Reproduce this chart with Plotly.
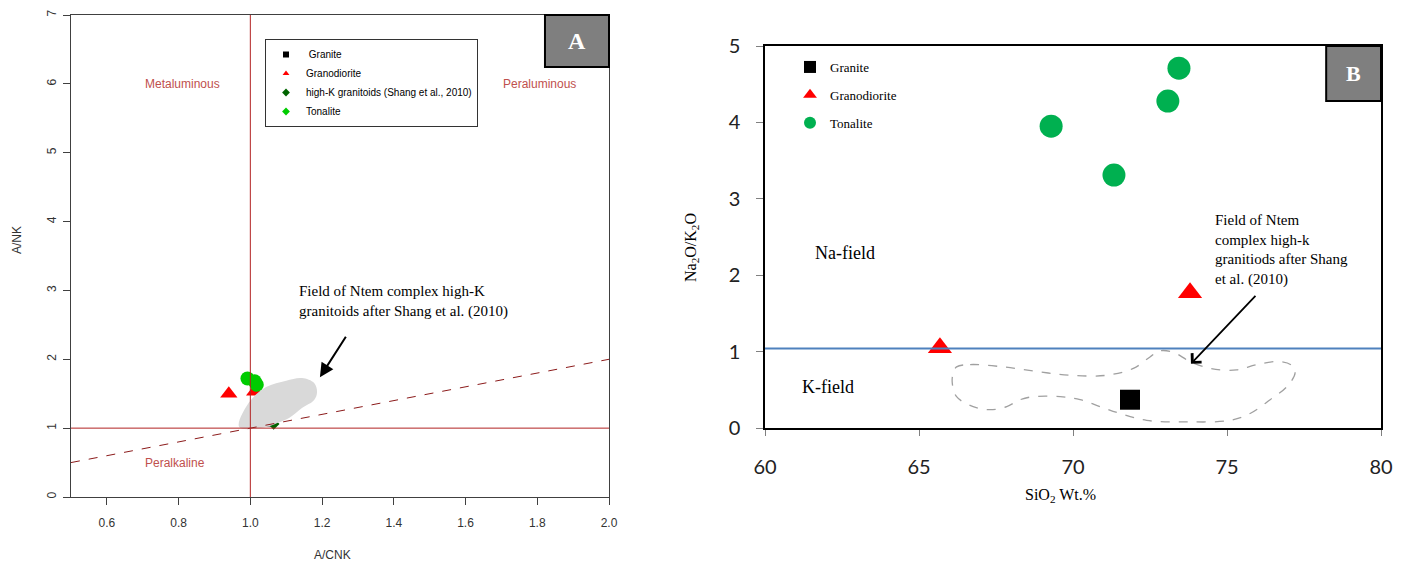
import plotly.graph_objects as go

# ---------------- Panel A data (A/CNK vs A/NK) ----------------
a_granodiorite_acnk = [0.94, 1.012]
a_granodiorite_ank = [1.50, 1.53]
a_tonalite_acnk = [0.992, 1.012, 1.018]
a_tonalite_ank = [1.72, 1.68, 1.63]
a_highk_acnk = [1.065]
a_highk_ank = [1.06]
a_granite_acnk = [1.055]
a_granite_ank = [1.09]
a_field_acnk = [0.969, 0.997, 1.044, 1.100, 1.144, 1.178, 1.186, 1.178, 1.144, 1.108, 1.075, 1.044, 0.969]
a_field_ank = [1.016, 1.379, 1.597, 1.690, 1.727, 1.655, 1.524, 1.408, 1.292, 1.147, 1.074, 1.016, 1.016]
a_ref_x = 1.0          # A/CNK = 1
a_ref_y = 1.0          # A/NK = 1
a_diag = [0.5, 2.0]    # A/NK = A/CNK line
a_arrow_head = (1.194, 1.74)
a_arrow_tail = (1.269, 2.35)

# ---------------- Panel B data (SiO2 vs Na2O/K2O) ----------------
b_granite_sio2 = [71.85]
b_granite_ratio = [0.37]
b_granodiorite_sio2 = [65.68, 73.80]
b_granodiorite_ratio = [1.05, 1.77]
b_tonalite_sio2 = [73.44, 73.08, 69.29, 71.33]
b_tonalite_ratio = [4.71, 4.28, 3.95, 3.31]
b_boundary = 1.04
b_field_sio2 = [66.22, 66.66, 67.74, 68.82, 69.90, 71.09, 71.96, 72.50, 72.82, 73.26, 73.80,
                74.45, 75.31, 75.96, 76.72, 77.10, 77.21, 76.94, 76.40, 75.75, 75.10, 73.69,
                72.39, 71.53, 70.88, 70.23, 69.58, 68.71, 68.28, 67.85, 67.31, 66.76, 66.22,
                66.08, 66.11, 66.22]
b_field_ratio = [0.80, 0.83, 0.80, 0.74, 0.69, 0.69, 0.78, 0.93, 1.01, 0.99, 0.87,
                 0.78, 0.76, 0.83, 0.87, 0.82, 0.72, 0.54, 0.37, 0.19, 0.10, 0.08,
                 0.10, 0.19, 0.28, 0.37, 0.41, 0.41, 0.37, 0.28, 0.24, 0.28, 0.41,
                 0.59, 0.72, 0.80]
b_arrow_head = (73.83, 0.84)
b_arrow_tail = (75.97, 1.75)

RED_LINE = "#b22222"
RED_TEXT = "#c0504d"
SERIF = "Liberation Serif, Times New Roman, serif"
SANS = "Liberation Sans, Arial, sans-serif"

W, H = 1408, 562
BODY = 8  # page body margin offset in the browser


def px(x):
    return (x - BODY) / W


def py(y):
    return 1 - (y - BODY) / H


fig = go.Figure()

# ---- Panel A traces ----
fig.add_trace(go.Scatter(x=a_granite_acnk, y=a_granite_ank, mode="markers", xaxis="x", yaxis="y",
                         marker=dict(symbol="square", color="black", size=9), showlegend=False))
fig.add_trace(go.Scatter(x=a_highk_acnk, y=a_highk_ank, mode="markers", xaxis="x", yaxis="y",
                         marker=dict(symbol="diamond", color="#006400", size=9), showlegend=False))
fig.add_trace(go.Scatter(x=a_granodiorite_acnk, y=a_granodiorite_ank, mode="markers", xaxis="x", yaxis="y",
                         marker=dict(symbol="triangle-up", color="#ff0000", size=15), showlegend=False))
fig.add_trace(go.Scatter(x=a_tonalite_acnk, y=a_tonalite_ank, mode="markers", xaxis="x", yaxis="y",
                         marker=dict(symbol="circle", color="#00cc00", size=14), showlegend=False))
fig.add_trace(go.Scatter(x=a_field_acnk, y=a_field_ank, mode="lines", xaxis="x", yaxis="y",
                         line=dict(color="#d9d9d9", width=0, shape="spline"), fill="toself",
                         fillcolor="#d9d9d9", showlegend=False, hoverinfo="skip"))
fig.add_trace(go.Scatter(x=a_diag, y=a_diag, mode="lines", xaxis="x", yaxis="y",
                         line=dict(color="#8b1a1a", width=1, dash="dash"), showlegend=False))

# Legend proxies for panel A
for name, sym, col in [("&nbsp;Granite", "square", "black"),
                       ("Granodiorite", "triangle-up", "#ff0000"),
                       ("high-K granitoids (Shang et al., 2010)", "diamond", "#006400"),
                       ("Tonalite", "diamond", "#00cc00")]:
    fig.add_trace(go.Scatter(x=[None], y=[None], mode="markers", xaxis="x", yaxis="y", name=name,
                             marker=dict(symbol=sym, color=col, size=6), legend="legend"))

# ---- Panel B traces ----
fig.add_trace(go.Scatter(x=b_field_sio2, y=b_field_ratio, mode="lines", xaxis="x2", yaxis="y2",
                         line=dict(color="#a0a0a0", width=1.3, dash="dash", shape="spline"),
                         showlegend=False, hoverinfo="skip"))
fig.add_trace(go.Scatter(x=b_granite_sio2, y=b_granite_ratio, mode="markers", xaxis="x2", yaxis="y2",
                         marker=dict(symbol="square", color="black", size=20), showlegend=False))
fig.add_trace(go.Scatter(x=b_granodiorite_sio2, y=b_granodiorite_ratio, mode="markers", xaxis="x2", yaxis="y2",
                         marker=dict(symbol="triangle-up", color="#ff0000", size=21), showlegend=False))
fig.add_trace(go.Scatter(x=b_tonalite_sio2, y=b_tonalite_ratio, mode="markers", xaxis="x2", yaxis="y2",
                         marker=dict(symbol="circle", color="#00b050", size=23), showlegend=False))

for i, (name, sym, col) in enumerate([("Granite", "square", "black"),
                                      ("Granodiorite", "triangle-up", "#ff0000"),
                                      ("Tonalite", "circle", "#00b050")]):
    fig.add_trace(go.Scatter(x=[None], y=[None], mode="markers", xaxis="x2", yaxis="y2", name=name,
                             legendgroup="g%d" % i,
                             marker=dict(symbol=sym, color=col, size=11), legend="legend2"))

# ---- Shapes ----
shapes = [
    dict(type="line", xref="x", yref="y domain", x0=a_ref_x, x1=a_ref_x, y0=0, y1=1,
         line=dict(color=RED_LINE, width=1)),
    dict(type="line", xref="x domain", yref="y", x0=0, x1=1, y0=a_ref_y, y1=a_ref_y,
         line=dict(color=RED_LINE, width=1)),
    dict(type="rect", xref="x domain", yref="y domain", x0=0.881, x1=1.0, y0=0.892, y1=1.0,
         fillcolor="#7f7f7f", line=dict(color="black", width=2)),
    dict(type="line", xref="x2 domain", yref="y2", x0=0, x1=1, y0=b_boundary, y1=b_boundary,
         line=dict(color="#4f81bd", width=2)),
    dict(type="rect", xref="x2 domain", yref="y2 domain", x0=0.911, x1=1.0, y0=0.856, y1=1.0,
         fillcolor="#7f7f7f", line=dict(color="black", width=2)),
]

C = dict(xanchor="center", yanchor="middle")
annotations = [
    # Panel A labels
    dict(text="Metaluminous", x=0.81, y=6.0, xref="x", yref="y", showarrow=False,
         font=dict(family=SANS, size=12, color=RED_TEXT), **C),
    dict(text="Peraluminous", x=1.806, y=6.0, xref="x", yref="y", showarrow=False,
         font=dict(family=SANS, size=12, color=RED_TEXT), **C),
    dict(text="Peralkaline", x=0.79, y=0.49, xref="x", yref="y", showarrow=False,
         font=dict(family=SANS, size=12, color=RED_TEXT), **C),
    dict(text="Field of Ntem complex high-K<br>granitoids after Shang et al. (2010)",
         x=1.131, y=2.845, xref="x", yref="y", xanchor="left", yanchor="middle", align="left",
         showarrow=False, font=dict(family=SERIF, size=15, color="black")),
    dict(text="", x=a_arrow_head[0], y=a_arrow_head[1], ax=a_arrow_tail[0], ay=a_arrow_tail[1],
         xref="x", yref="y", axref="x", ayref="y", showarrow=True, arrowhead=2, arrowsize=1.4,
         arrowwidth=2, arrowcolor="black"),
    dict(text="<b>A</b>", x=0.94, y=0.946, xref="x domain", yref="y domain", showarrow=False,
         font=dict(family=SERIF, size=24, color="white"), **C),
    dict(text="A/NK", x=px(17), y=py(240), xref="paper", yref="paper", showarrow=False,
         textangle=-90, font=dict(family=SANS, size=12, color="#333"), **C),
    dict(text="A/CNK", x=px(332), y=py(555), xref="paper", yref="paper", showarrow=False,
         font=dict(family=SANS, size=12, color="#333"), **C),
    # Panel B labels
    dict(text="Na-field", x=62.6, y=2.29, xref="x2", yref="y2", showarrow=False,
         font=dict(family=SERIF, size=18, color="black"), **C),
    dict(text="K-field", x=62.05, y=0.54, xref="x2", yref="y2", showarrow=False,
         font=dict(family=SERIF, size=18, color="black"), **C),
    dict(text="Field of Ntem<br>complex high-k<br>granitiods after Shang<br>et al. (2010)",
         x=74.55, y=2.33, xref="x2", yref="y2", xanchor="left", yanchor="middle", align="left",
         showarrow=False, font=dict(family=SERIF, size=15, color="black")),
    dict(text="", x=b_arrow_head[0], y=b_arrow_head[1], ax=b_arrow_tail[0], ay=b_arrow_tail[1],
         xref="x2", yref="y2", axref="x2", ayref="y2", showarrow=True, arrowhead=4, arrowsize=1.4,
         arrowwidth=1.8, arrowcolor="black"),
    dict(text="<b>B</b>", x=0.955, y=0.929, xref="x2 domain", yref="y2 domain", showarrow=False,
         font=dict(family=SERIF, size=22, color="white"), **C),
    dict(text="Na<sub>2</sub>O/K<sub>2</sub>O", x=px(692), y=py(248), xref="paper", yref="paper",
         showarrow=False, textangle=-90, font=dict(family=SERIF, size=16, color="black"), **C),
    dict(text="SiO<sub>2</sub> Wt.%", x=px(1060), y=py(495), xref="paper", yref="paper",
         showarrow=False, font=dict(family=SERIF, size=16, color="black"), **C),
]

fig.update_layout(
    width=W, height=H, autosize=False,
    margin=dict(l=0, r=0, t=0, b=0, pad=0),
    paper_bgcolor="white", plot_bgcolor="white",
    xaxis=dict(domain=[px(71), px(609)], range=[0.5, 2.0], tick0=0.6, dtick=0.2, tickformat=".1f",
               automargin=False,
               showgrid=False, zeroline=False, showline=True, mirror=True, linecolor="#404040", linewidth=1,
               ticks="outside", ticklen=7, tickcolor="#404040", ticklabelstandoff=8,
               tickfont=dict(family=SANS, size=12, color="#333"), anchor="y"),
    yaxis=dict(domain=[py(497), py(15)], range=[0, 7], dtick=1, tickangle=-90,
               automargin=False,
               showgrid=False, zeroline=False, showline=True, mirror=True, linecolor="#404040", linewidth=1,
               ticks="outside", ticklen=7, tickcolor="#404040", ticklabelstandoff=2,
               tickfont=dict(family=SANS, size=12, color="#333"), anchor="x"),
    xaxis2=dict(domain=[px(765), px(1381)], range=[60, 80], dtick=5,
                automargin=False,
                showgrid=False, zeroline=False, showline=True, mirror=True, linecolor="black", linewidth=1.5,
                ticks="outside", ticklen=6, tickcolor="#808080", ticklabelstandoff=14,
                tickfont=dict(family="Lato, Open Sans, sans-serif", size=20, color="#222"), anchor="y2"),
    yaxis2=dict(domain=[py(428), py(46)], range=[0, 5], dtick=1,
                automargin=False,
                showgrid=False, zeroline=False, showline=True, mirror=True, linecolor="black", linewidth=1.5,
                ticks="outside", ticklen=7, tickcolor="#808080", ticklabelstandoff=12,
                tickfont=dict(family="Lato, Open Sans, sans-serif", size=20, color="#222"), anchor="x2"),
    legend=dict(x=px(265), y=py(39), xanchor="left", yanchor="top",
                bordercolor="#333", borderwidth=1, bgcolor="white",
                font=dict(family=SANS, size=10, color="black"), itemsizing="trace",
                tracegroupgap=0),
    legend2=dict(x=px(790), y=py(52), xanchor="left", yanchor="top",
                 bgcolor="rgba(0,0,0,0)", borderwidth=0,
                 font=dict(family=SERIF, size=13, color="black"), itemsizing="constant",
                 tracegroupgap=8),
    shapes=shapes,
    annotations=annotations,
)

fig.write_html("out.html")
